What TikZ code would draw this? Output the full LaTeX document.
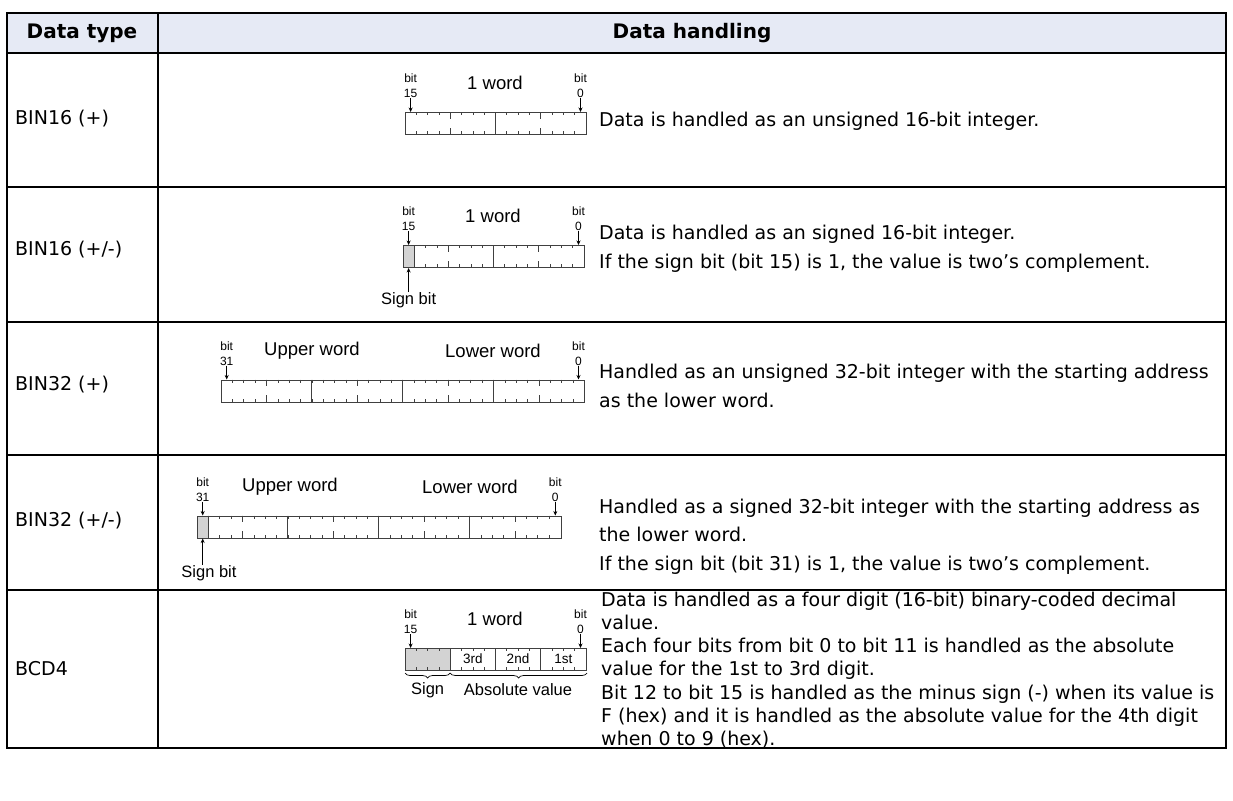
\documentclass[tikz,border=0pt]{standalone}
\usepackage{fontspec}
\usepackage{tikz}
\usetikzlibrary{arrows.meta, positioning, calc, decorations.pathreplacing}
\newfontfamily\tahoma{DejaVu Sans}
\newfontfamily\headfont{DejaVu Sans}
\newfontfamily\regfont{Liberation Sans}
\definecolor{headfill}{RGB}{230,234,245}
\definecolor{signgray}{RGB}{211,211,211}
\definecolor{regline}{RGB}{64,64,64}

% bit ticks of a register, drawn in bit units inside a shifted scope
\newcommand{\regticks}[3]{%
  \foreach \i in {1,...,#1}
    \draw[tick] (\i,0) -- (\i,3) (\i,22) -- (\i,19);
  \foreach \i in {#2}
    \draw[tick] (\i,0) -- (\i,6.5) (\i,22) -- (\i,15.5);
  \foreach \i in {#3}
    \draw[divider] (\i,0) -- (\i,22);}

\begin{document}
\begin{tikzpicture}[x=1pt, y=-1pt,
    rule/.style={line width=2.2pt},
    vrule/.style={line width=1.2pt},
    head/.style={font=\headfont\bfseries\fontsize{20}{24}\selectfont, inner sep=0pt},
    dtype/.style={font=\tahoma\fontsize{19}{23}\selectfont, anchor=west, inner sep=0pt},
    desc/.style={font=\tahoma\fontsize{19}{28.5}\selectfont, anchor=west,
                 align=left, inner sep=0pt},
    reg/.style={draw=regline, line width=1pt, minimum height=22pt,
                inner sep=0pt, anchor=north west},
    tick/.style={regline, line width=0.5pt},
    divider/.style={regline, line width=0.9pt},
    signbit/.style={fill=signgray},
    bitlbl/.style={font=\regfont\fontsize{12}{15}\selectfont, align=center,
                   inner sep=0pt, anchor=south},
    wordlbl/.style={font=\regfont\fontsize{18.5}{20}\selectfont, inner sep=0pt},
    smalllbl/.style={font=\regfont\fontsize{16.5}{18}\selectfont, inner sep=0pt},
    digitlbl/.style={font=\regfont\fontsize{13.5}{15}\selectfont, inner sep=0pt},
    bitarr/.style={-{Stealth[length=4.5pt, width=4pt]}, line width=0.8pt},
    brc/.style={decorate, decoration={brace, mirror, amplitude=5pt}, line width=0.7pt}]

\useasboundingbox (0,0) rectangle (1233,800);

%% ── Table frame ──────────────────────────────────────────────────────────────
\fill[headfill] (7,13) rectangle (1226,53);
\draw[vrule] (7,13) -- (7,748);
\draw[vrule] (158,13) -- (158,748);
\draw[vrule] (1226,13) -- (1226,748);
\foreach \y in {13,53,187,322,455,590,748}
  \draw[rule] (6,\y) -- (1227,\y);

\node[head] (h1) at (82,33) {Data type};
\node[head] (h2) at (692,33) {Data handling};

%% ── BIN16 (+) ────────────────────────────────────────────────────────────────
\node[dtype] (t1) at (15,119) {BIN16 (+)};
\begin{scope}[shift={(405,112)}, x=11.3pt]
  \regticks{15}{4,12}{8}
\end{scope}
\node[reg, minimum width=181pt] (reg1) at (405,112) {};
\node[bitlbl] (hi1) at (410.6,98) {bit\\15};
\node[bitlbl] (lo1) at (580.5,98) {bit\\0};
\node[wordlbl] (w1) at (495,83) {1 word};
\draw[bitarr] (hi1.south) -- (hi1.south |- reg1.north);
\draw[bitarr] (lo1.south) -- (lo1.south |- reg1.north);
\node[desc] (d1) at (599,121) {Data is handled as an unsigned 16-bit integer.};

%% ── BIN16 (+/-) ──────────────────────────────────────────────────────────────
\node[dtype] (t2) at (15,250) {BIN16 (+/-)};
\begin{scope}[shift={(403,245)}, x=11.3pt]
  \fill[signbit] (0,0) rectangle (1,22);
  \regticks{15}{4,12}{1,8}
\end{scope}
\node[reg, minimum width=181pt] (reg2) at (403,245) {};
\node[bitlbl] (hi2) at (408.6,231) {bit\\15};
\node[bitlbl] (lo2) at (578.5,231) {bit\\0};
\node[wordlbl] (w2) at (493,216) {1 word};
\draw[bitarr] (hi2.south) -- (hi2.south |- reg2.north);
\draw[bitarr] (lo2.south) -- (lo2.south |- reg2.north);
\node[smalllbl] (s2) at (408.6,300) {Sign bit};
\draw[bitarr] (s2.north) -- (s2.north |- reg2.south);
\node[desc] (d2) at (599,249)
  {Data is handled as an signed 16-bit integer.\\
   If the sign bit (bit 15) is 1, the value is two’s complement.};

%% ── BIN32 (+) ────────────────────────────────────────────────────────────────
\node[dtype] (t3) at (15,385) {BIN32 (+)};
\begin{scope}[shift={(221,379.5)}, x=11.35pt]
  \regticks{31}{4,12,20,28}{8,16,24}
\end{scope}
\node[reg, minimum width=363pt] (reg3) at (221,379.5) {};
\node[bitlbl] (hi3) at (226.7,365.5) {bit\\31};
\node[bitlbl] (lo3) at (578.5,365.5) {bit\\0};
\node[wordlbl] (w3a) at (312,350.5) {Upper word};
\node[wordlbl] (w3b) at (493,350.5) {Lower word};
\draw[bitarr] (hi3.south) -- (hi3.south |- reg3.north);
\draw[bitarr] (lo3.south) -- (lo3.south |- reg3.north);
\node[desc] (d3) at (599,386)
  {Handled as an unsigned 32-bit integer with the starting address\\
   as the lower word.};

%% ── BIN32 (+/-) ──────────────────────────────────────────────────────────────
\node[dtype] (t4) at (15,521) {BIN32 (+/-)};
\begin{scope}[shift={(197,515.5)}, x=11.35pt]
  \fill[signbit] (0,0) rectangle (1,22);
  \regticks{31}{4,12,20,28}{1,8,16,24}
\end{scope}
\node[reg, minimum width=364pt] (reg4) at (197,515.5) {};
\node[bitlbl] (hi4) at (202.7,501.5) {bit\\31};
\node[bitlbl] (lo4) at (555.3,501.5) {bit\\0};
\node[wordlbl] (w4a) at (290,486.5) {Upper word};
\node[wordlbl] (w4b) at (470,486.5) {Lower word};
\draw[bitarr] (hi4.south) -- (hi4.south |- reg4.north);
\draw[bitarr] (lo4.south) -- (lo4.south |- reg4.north);
\node[smalllbl] (s4) at (209,573) {Sign bit};
\draw[bitarr] (s4.north -| hi4.south) -- (hi4.south |- reg4.south);
\node[desc] (d4) at (599,536.5)
  {Handled as a signed 32-bit integer with the starting address as\\
   the lower word.\\
   If the sign bit (bit 31) is 1, the value is two’s complement.};

%% ── BCD4 ─────────────────────────────────────────────────────────────────────
\node[dtype] (t5) at (15,669) {BCD4};
\begin{scope}[shift={(405,648)}, x=11.3pt]
  \fill[signbit] (0,0) rectangle (4,22);
  \regticks{15}{4,8,12}{4,8,12}
\end{scope}
\node[reg, minimum width=181pt] (reg5) at (405,648) {};
\node[bitlbl] (hi5) at (410.6,634) {bit\\15};
\node[bitlbl] (lo5) at (580.5,634) {bit\\0};
\node[wordlbl] (w5) at (495,619) {1 word};
\draw[bitarr] (hi5.south) -- (hi5.south |- reg5.north);
\draw[bitarr] (lo5.south) -- (lo5.south |- reg5.north);
\node[digitlbl] (g3) at (472.8,659) {3rd};
\node[digitlbl] (g2) at (518,659) {2nd};
\node[digitlbl] (g1) at (563.3,659) {1st};
\draw[brc] ($(reg5.south west)+(0,2)$) -- ($(reg5.south west)+(45.2,2)$);
\draw[brc] ($(reg5.south west)+(45.2,2)$) -- ($(reg5.south east)+(0,2)$);
\node[smalllbl] (sg5) at (427.6,690) {Sign};
\node[smalllbl] (ab5) at (518,690) {Absolute value};
\node[desc, font=\tahoma\fontsize{19}{23.2}\selectfont] (d5) at (601,670)
  {Data is handled as a four digit (16-bit) binary-coded decimal\\
   value.\\
   Each four bits from bit 0 to bit 11 is handled as the absolute\\
   value for the 1st to 3rd digit.\\
   Bit 12 to bit 15 is handled as the minus sign (-) when its value is\\
   F (hex) and it is handled as the absolute value for the 4th digit\\
   when 0 to 9 (hex).};

\end{tikzpicture}
\end{document}
